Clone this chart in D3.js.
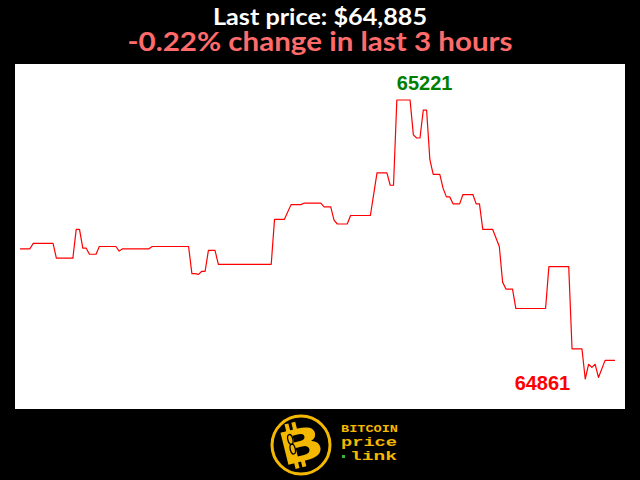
<!DOCTYPE html>
<html>
<head>
<meta charset="utf-8">
<script src="https://cdn.jsdelivr.net/npm/d3@7"></script>
<style>
  html, body { margin: 0; padding: 0; background: #000; }
  svg { display: block; }
</style>
</head>
<body>
<script>
// minutes since start of the 3 hour window, and the BTC price at each vertex
const minutes = [0, 3, 4, 10, 11, 16, 17, 18, 19, 20,
  21, 23, 24, 29, 30, 31, 39, 40, 51, 52,
  53, 54, 55, 56, 57, 59, 60, 76, 77, 80,
  82, 85, 86, 91, 92, 94, 95, 96, 99, 100,
  106, 108, 111, 112, 113, 114, 118, 119, 120, 121,
  122, 123, 124, 125, 127, 128, 129, 130, 131, 133,
  134, 137, 138, 139, 140, 143, 145, 146, 147, 149,
  150, 159, 160, 166, 167, 170, 171, 172, 173, 174,
  175, 177, 180];
const prices = [65029, 65029, 65036, 65036, 65017, 65017, 65054, 65054, 65030, 65030,
  65022, 65022, 65032, 65032, 65026, 65029, 65029, 65032, 65032, 64997,
  64997, 64996, 65000, 65000, 65027, 65027, 65009, 65009, 65067, 65067,
  65086, 65086, 65088, 65088, 65083, 65083, 65066, 65061, 65061, 65072,
  65072, 65127, 65127, 65111, 65111, 65221, 65221, 65176, 65172, 65172,
  65208, 65208, 65144, 65125, 65125, 65107, 65096, 65096, 65087, 65087,
  65099, 65099, 65087, 65087, 65054, 65054, 65032, 64986, 64977, 64977,
  64952, 64952, 65006, 65006, 64900, 64900, 64861, 64880, 64876, 64880,
  64863, 64885, 64885];
const titleLines = ['Last price: $64,885', '-0.22% change in last 3 hours'];
const logoWords = ['BITCOIN', 'price', 'link'];

const width = 640;
const height = 480;

// white plot panel
const panel = {x: 15, y: 64, w: 610, h: 345};

const svg = d3.select('body')
  .append('svg')
  .attr('width', width)
  .attr('height', height);

svg.append('rect')
  .attr('width', width)
  .attr('height', height)
  .attr('fill', '#000');

svg.append('rect')
  .attr('x', panel.x)
  .attr('y', panel.y)
  .attr('width', panel.w)
  .attr('height', panel.h)
  .attr('fill', '#fff');

// helper: squeeze a text to a measured width
const fit = (sel, w) => sel.attr('textLength', w).attr('lengthAdjust', 'spacingAndGlyphs');

// titles
svg.append('text')
  .attr('x', 320).attr('y', 25)
  .attr('text-anchor', 'middle')
  .attr('fill', '#fff')
  .style('font', 'bold 23px Lato, "Open Sans", sans-serif')
  .text(titleLines[0])
  .call(fit, 214);

svg.append('text')
  .attr('x', 320).attr('y', 51)
  .attr('text-anchor', 'middle')
  .attr('fill', '#ff6b6b')
  .style('font', 'bold 26px Lato, "Open Sans", sans-serif')
  .text(titleLines[1])
  .call(fit, 385);

// scales
const x = d3.scaleLinear()
  .domain([0, 180])
  .range([20, 615]);

const yMin = d3.min(prices);
const yMax = d3.max(prices);
const y = d3.scaleLinear()
  .domain([yMin, yMax])
  .range([panel.y + panel.h - 30, panel.y + 36]);

const data = minutes.map((m, i) => ({m, p: prices[i]}));

const line = d3.line()
  .x(d => x(d.m))
  .y(d => y(d.p));

svg.append('path')
  .datum(data)
  .attr('fill', 'none')
  .attr('stroke', '#ff0000')
  .attr('stroke-width', 1.2)
  .attr('stroke-linejoin', 'round')
  .attr('d', line);

// high / low labels
const hi = data.find(d => d.p === yMax);
const lo = data.find(d => d.p === yMin);

svg.append('text')
  .attr('x', x(hi.m))
  .attr('y', y(hi.p) - 10)
  .attr('fill', '#008000')
  .style('font', 'bold 20px "Liberation Sans", Arial, sans-serif')
  .text(yMax);

svg.append('text')
  .attr('x', x(lo.m) - 15)
  .attr('y', y(lo.p) + 11)
  .attr('text-anchor', 'end')
  .attr('fill', '#ff0000')
  .style('font', 'bold 20px "Liberation Sans", Arial, sans-serif')
  .text(yMin);

// logo
const gold = '#f5b800';
const logo = svg.append('g')
  .attr('transform', 'translate(301,445)');

logo.append('circle')
  .attr('r', 29)
  .attr('fill', '#000')
  .attr('stroke', gold)
  .attr('stroke-width', 3);

const coin = logo.append('g')
  .attr('transform', 'rotate(-14)');

// bitcoin ticks above and below the B
[-11, -4].forEach(dx => {
  coin.append('rect')
    .attr('x', dx).attr('y', -24)
    .attr('width', 4).attr('height', 8)
    .attr('fill', gold);
  coin.append('rect')
    .attr('x', dx).attr('y', 14)
    .attr('width', 4).attr('height', 8)
    .attr('fill', gold);
});

coin.append('text')
  .attr('x', 0).attr('y', 16)
  .attr('text-anchor', 'middle')
  .attr('fill', gold)
  .attr('transform', 'scale(1.3,1)')
  .style('font', 'bold 45px "DejaVu Sans", sans-serif')
  .text('B');

// chain link on the stem
[-8, 2].forEach(cy => {
  coin.append('ellipse')
    .attr('cx', -9).attr('cy', cy)
    .attr('rx', 2.5).attr('ry', 5)
    .attr('fill', 'none')
    .attr('stroke', '#000')
    .attr('stroke-width', 1.3);
});

svg.append('text')
  .attr('x', 341).attr('y', 432)
  .attr('fill', gold)
  .style('font', 'bold 10px "Liberation Mono", "DejaVu Sans Mono", monospace')
  .text(logoWords[0])
  .call(fit, 57);

svg.append('text')
  .attr('x', 341).attr('y', 446)
  .attr('fill', gold)
  .style('font', 'bold 12px "Liberation Mono", "DejaVu Sans Mono", monospace')
  .text(logoWords[1])
  .call(fit, 56);

svg.append('rect')
  .attr('x', 342).attr('y', 455)
  .attr('width', 3).attr('height', 3)
  .attr('fill', '#3cb043');

svg.append('text')
  .attr('x', 350).attr('y', 460)
  .attr('fill', gold)
  .style('font', 'bold 12px "Liberation Mono", "DejaVu Sans Mono", monospace')
  .text(logoWords[2])
  .call(fit, 47);
</script>
</body>
</html>
